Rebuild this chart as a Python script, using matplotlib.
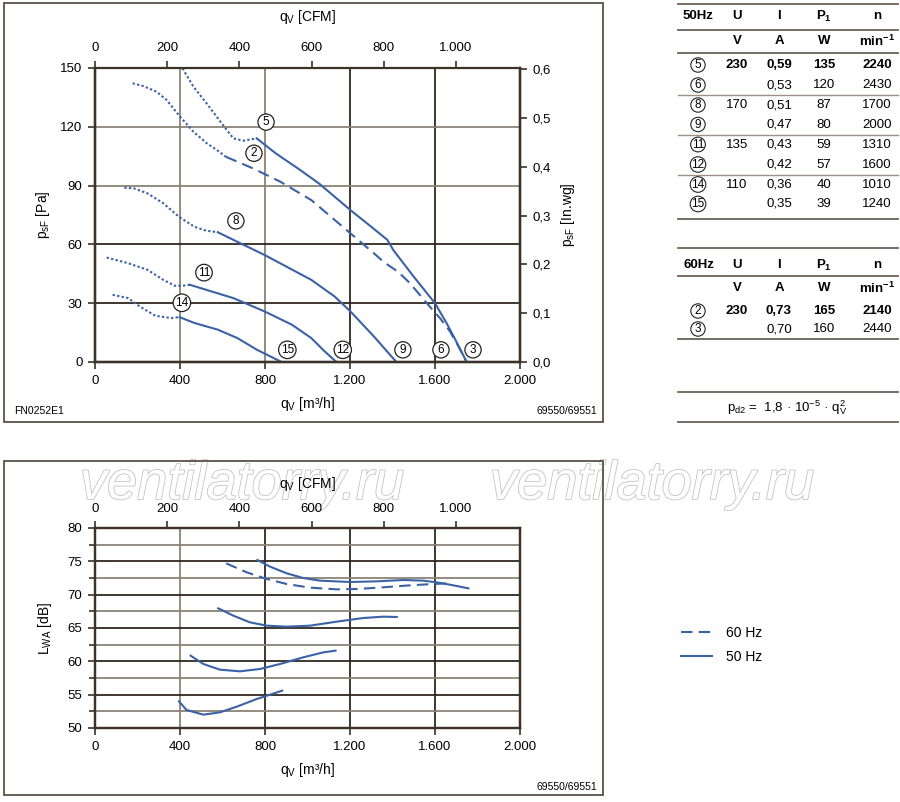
import numpy as np
import matplotlib.pyplot as plt
from matplotlib.patches import Rectangle
from matplotlib.lines import Line2D
from matplotlib.ticker import FuncFormatter, MultipleLocator
import matplotlib.patheffects as pe

plt.rcParams['font.family'] = ['Liberation Sans', 'DejaVu Sans']
plt.rcParams['mathtext.fontset'] = 'custom'
plt.rcParams['mathtext.rm'] = 'Liberation Sans'
plt.rcParams['mathtext.it'] = 'Liberation Sans:italic'
plt.rcParams['mathtext.bf'] = 'Liberation Sans:bold'

BLUE = '#3b62a5'
DARK = '#2f281f'
GRAY = '#8a8276'
SPINE = '#3b3228'

# --- pressure curves, q [m3/h] / p [Pa]; *_u = unstable (dotted) part
q5_u = [412, 463, 525, 572, 620, 651, 698, 761]
p5_u = [149.8, 140.5, 132.0, 125.2, 118.4, 114.1, 112.9, 114.1]
q5 = [761, 850, 965, 1055, 1202, 1300, 1376, 1404, 1500, 1600, 1655, 1700, 1749]
p5 = [114.1, 106.5, 98.0, 91.0, 77.5, 69.0, 62.3, 57.1, 43.5, 30.0, 19.7, 10.5, 0.0]

q2_u = [177, 227, 290, 337, 400, 463, 526, 573, 616]
p2_u = [142.2, 140.8, 137.9, 133.7, 125.2, 117.5, 111.6, 108.2, 104.7]
q2 = [616, 743, 872, 1018, 1183, 1312, 1365, 1427, 1482, 1529, 1576, 1624, 1671, 1710, 1749]
p2 = [104.7, 98.8, 92.0, 82.6, 67.4, 55.5, 50.5, 46.0, 40.2, 34.2, 28.2, 22.3, 15.5, 8.0, 0.0]

q8_u = [138, 183, 248, 321, 394, 468, 523, 578]
p8_u = [88.9, 88.6, 86.0, 81.0, 74.2, 69.0, 67.0, 66.2]
q8 = [578, 680, 798, 1018, 1128, 1202, 1312, 1418]
p8 = [66.2, 60.8, 54.6, 41.9, 33.4, 25.8, 13.1, 0.0]

q11_u = [55, 156, 248, 321, 376, 413, 446]
p11_u = [53.3, 50.4, 47.0, 41.9, 38.9, 38.9, 39.4]
q11 = [446, 651, 798, 927, 1018, 1080, 1136]
p11 = [39.4, 32.6, 25.8, 19.0, 12.2, 5.5, 0.0]

q14_u = [83, 156, 211, 284, 358, 398]
p14_u = [34.3, 32.6, 28.3, 23.6, 22.4, 22.9]
q14 = [398, 468, 578, 670, 761, 878]
p14 = [22.9, 19.9, 16.5, 12.2, 6.3, 0.0]

lab_names = ['5', '2', '8', '11', '14', '15', '12', '9', '6', '3']
lab_q = [805, 748, 663, 513, 409, 905, 1166, 1449, 1628, 1779]
lab_p = [122.4, 106.5, 72.0, 45.6, 30.2, 6.2, 6.2, 6.2, 6.2, 6.2]

# --- sound power curves, q [m3/h] / L_WA [dB]
nq5 = [764, 824, 902, 980, 1059, 1200, 1326, 1451, 1545, 1608, 1686, 1757]
nl5 = [75.2, 74.2, 73.2, 72.5, 72.1, 71.9, 72.0, 72.2, 72.1, 71.85, 71.4, 70.95]
nq2 = [617, 714, 808, 902, 1012, 1137, 1231, 1357, 1482, 1592, 1655]
nl2 = [74.7, 73.35, 72.35, 71.6, 71.05, 70.8, 70.85, 71.1, 71.4, 71.6, 71.7]
nq8 = [580, 651, 729, 808, 902, 1012, 1137, 1263, 1357, 1420]
nl8 = [67.95, 66.85, 65.85, 65.35, 65.2, 65.35, 65.95, 66.5, 66.7, 66.65]
nq11 = [450, 510, 588, 682, 776, 871, 980, 1075, 1132]
nl11 = [60.85, 59.6, 58.75, 58.5, 58.85, 59.6, 60.6, 61.35, 61.6]
nq14 = [395, 431, 510, 588, 667, 761, 881]
nl14 = [54.0, 52.7, 52.0, 52.35, 53.2, 54.35, 55.6]

# --- table
cols_x = [698, 737, 779, 824, 877]
head50 = ['50Hz', 'U', 'I', r'P$_\mathbf{1}$', 'n']
head60 = ['60Hz', 'U', 'I', r'P$_\mathbf{1}$', 'n']
units = ['', 'V', 'A', 'W', r'min$^\mathbf{-1}$']
rows50 = [['5', '230', '0,59', '135', '2240'],
          ['6', '', '0,53', '120', '2430'],
          ['8', '170', '0,51', '87', '1700'],
          ['9', '', '0,47', '80', '2000'],
          ['11', '135', '0,43', '59', '1310'],
          ['12', '', '0,42', '57', '1600'],
          ['14', '110', '0,36', '40', '1010'],
          ['15', '', '0,35', '39', '1240']]
rows60 = [['2', '230', '0,73', '165', '2140'],
          ['3', '', '0,70', '160', '2440']]

M3H_PER_CFM = 1.699
PA_PER_INWG = 249.09


def fx(px):
    return px / 900


def fy(py):
    return 1 - py / 802


def thousands(v, pos=None):
    return f'{v:,.0f}'.replace(',', '.')


def style_axes(ax):
    for s in ax.spines.values():
        s.set_color(SPINE)
        s.set_linewidth(1.6)
    ax.tick_params(colors=SPINE, labelcolor='black', width=1.2, length=5,
                   labelsize=9.5, pad=4)


fig = plt.figure(figsize=(9, 8.02), dpi=100)

# ================= pressure chart =================
ax1 = fig.add_axes([fx(95), fy(362), fx(520) - fx(95), fy(68) - fy(362)])
ax1.set_xlim(0, 2000)
ax1.set_ylim(0, 150)
style_axes(ax1)
ax1.spines['top'].set_visible(False)
ax1.set_xticks(np.arange(0, 2001, 400))
ax1.set_yticks(np.arange(0, 151, 30))
ax1.xaxis.set_major_formatter(FuncFormatter(thousands))
for x, c in zip([400, 800, 1200, 1600], [GRAY, GRAY, DARK, DARK]):
    ax1.axvline(x, color=c, lw=1.3, zorder=1)
for y, c in zip([30, 60, 90, 120], [DARK, DARK, GRAY, GRAY]):
    ax1.axhline(y, color=c, lw=1.3, zorder=1)

dot = (0, (1.1, 1.1))
dash = (0, (5.5, 3))
for qu, pu, q, p, ls in [(q5_u, p5_u, q5, p5, '-'), (q2_u, p2_u, q2, p2, dash),
                         (q8_u, p8_u, q8, p8, '-'), (q11_u, p11_u, q11, p11, '-'),
                         (q14_u, p14_u, q14, p14, '-')]:
    ax1.plot(qu, pu, color=BLUE, lw=1.5, ls=dot, zorder=3)
    ax1.plot(q, p, color=BLUE, lw=1.5, ls=ls, zorder=3)

for name, q, p in zip(lab_names, lab_q, lab_p):
    ax1.text(q, p, name, ha='center', va='center', fontsize=8.5, zorder=5,
             bbox=dict(boxstyle='circle,pad=0.18', fc='white', ec='#222222', lw=0.9))

ax1.set_xlabel(r'q$_\mathrm{V}$ [m³/h]', fontsize=10, labelpad=6)
ax1.set_ylabel(r'p$_\mathrm{sF}$ [Pa]', fontsize=10, labelpad=6)

ax1t = ax1.twiny()
ax1t.set_xlim(0, 2000 / M3H_PER_CFM)
style_axes(ax1t)
ax1t.spines['top'].set_visible(False)
ax1t.tick_params(axis='x', pad=5)
ax1t.set_xticks(np.arange(0, 1001, 200))
ax1t.xaxis.set_major_formatter(FuncFormatter(thousands))
ax1t.set_xlabel(r'q$_\mathrm{V}$ [CFM]', fontsize=10, labelpad=15)

ax1r = ax1.twinx()
ax1r.set_ylim(0, 150 / PA_PER_INWG)
style_axes(ax1r)
ax1r.set_yticks(np.arange(0, 0.61, 0.1))
ax1r.yaxis.set_major_formatter(FuncFormatter(lambda v, pos: f'{v:.1f}'.replace('.', ',')))
ax1r.set_ylabel(r'p$_\mathrm{sF}$ [In.wg]', fontsize=10, labelpad=6)

# ================= sound chart =================
ax2 = fig.add_axes([fx(95), fy(728), fx(520) - fx(95), fy(528) - fy(728)])
ax2.set_xlim(0, 2000)
ax2.set_ylim(50, 80)
style_axes(ax2)
ax2.set_xticks(np.arange(0, 2001, 400))
ax2.xaxis.set_major_formatter(FuncFormatter(thousands))
ax2.yaxis.set_major_locator(MultipleLocator(5))
ax2.yaxis.set_minor_locator(MultipleLocator(2.5))
ax2.tick_params(axis='y', which='minor', length=4, width=1.2, colors=SPINE)
for x, c in zip([400, 800, 1200, 1600], [GRAY, DARK, DARK, DARK]):
    ax2.axvline(x, color=c, lw=1.3, zorder=1)
for y in np.arange(52.5, 80, 2.5):
    ax2.axhline(y, color=DARK if y % 5 == 0 else GRAY, lw=1.3, zorder=1)

ax2.plot(nq5, nl5, color=BLUE, lw=1.5, zorder=3)
h60, = ax2.plot(nq2, nl2, color=BLUE, lw=1.5, ls=dash, zorder=3)
ax2.plot(nq8, nl8, color=BLUE, lw=1.5, zorder=3)
ax2.plot(nq11, nl11, color=BLUE, lw=1.5, zorder=3)
h50, = ax2.plot(nq14, nl14, color=BLUE, lw=1.5, zorder=3)

ax2.set_xlabel(r'q$_\mathrm{V}$ [m³/h]', fontsize=10, labelpad=6)
ax2.set_ylabel(r'L$_\mathrm{WA}$ [dB]', fontsize=10, labelpad=10)

ax2t = ax2.twiny()
ax2t.set_xlim(0, 2000 / M3H_PER_CFM)
style_axes(ax2t)
ax2t.set_xticks(np.arange(0, 1001, 200))
ax2t.xaxis.set_major_formatter(FuncFormatter(thousands))
ax2t.set_xlabel(r'q$_\mathrm{V}$ [CFM]', fontsize=10, labelpad=11)

fig.legend([h60, h50], ['60 Hz', '50 Hz'], loc='center left',
           bbox_to_anchor=(fx(668), fy(645)), frameon=False, fontsize=10,
           handlelength=2.3, labelspacing=0.75, handletextpad=1.0)

# ================= frames, codes, watermark =================
for y0, y1 in [(3, 422), (461, 795)]:
    fig.add_artist(Rectangle((fx(4), fy(y1)), fx(603) - fx(4), fy(y0) - fy(y1),
                             transform=fig.transFigure, fill=False, ec='#5a5248', lw=1.3))
fig.text(fx(14), fy(411), 'FN0252E1', fontsize=7.5, va='center')
fig.text(fx(597), fy(411), '69550/69551', fontsize=7.5, va='center', ha='right')
fig.text(fx(597), fy(787), '69550/69551', fontsize=7.5, va='center', ha='right')

# watermark sits underneath the axes so the axis labels stay on top
for x0 in [80, 490]:
    fig.text(fx(x0), fy(499), 'ventilatorry.ru', fontsize=39, style='italic',
             color='white', va='baseline', zorder=-1,
             path_effects=[pe.Stroke(linewidth=1.2, foreground='#c4c4c4'), pe.Normal()])


# ================= table =================
def hline(y, color='#6a6258', lw=1.3):
    fig.add_artist(Line2D([fx(678), fx(898)], [fy(y), fy(y)], color=color, lw=lw,
                          transform=fig.transFigure))


def table_row(y, cells, bold=False, circled=False):
    for i, (x, t) in enumerate(zip(cols_x, cells)):
        if t == '':
            continue
        if i == 0 and circled:
            fig.text(fx(x), fy(y), t, fontsize=8.5, ha='center', va='center',
                     bbox=dict(boxstyle='circle,pad=0.1', fc='white', ec='#222222', lw=0.8))
        elif i == 0:
            fig.text(fx(683), fy(y), t, fontsize=9.5, fontweight='bold', va='center')
        else:
            fig.text(fx(x), fy(y), t, fontsize=9.5, ha='center', va='center',
                     fontweight='bold' if bold else 'normal')


hline(4)
table_row(16, head50, bold=True)
hline(30)
table_row(41, units, bold=True)
hline(53)
for y, r in zip([65, 85, 105, 124.5, 144.5, 164.5, 184.5, 204], rows50):
    table_row(y, r, bold=(r[0] == '5'), circled=True)
for y in [95, 134.5, 174.5]:
    hline(y, color='#9a9288', lw=1.0)
hline(219)

hline(247.5)
table_row(265, head60, bold=True)
hline(276)
table_row(288, units, bold=True)
for y, r in zip([311, 329], rows60):
    table_row(y, r, bold=(r[0] == '2'), circled=True)
hline(339)

hline(392)
fig.text(fx(787), fy(408), r'p$_\mathrm{d2}$ =  1,8 · 10$^\mathrm{-5}$ · q$_\mathrm{V}^\mathrm{2}$',
         fontsize=9.5, ha='center', va='center')
hline(422)

fig.savefig('out.png', dpi=100)
